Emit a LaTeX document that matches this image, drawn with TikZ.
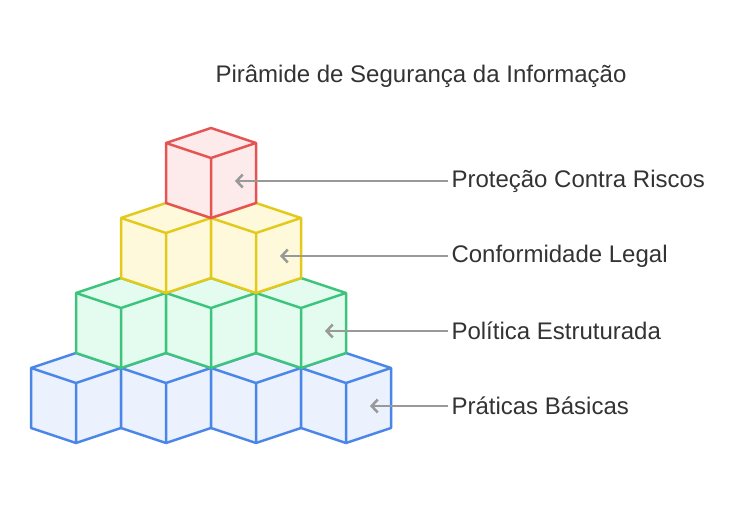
\documentclass[tikz,border=0pt]{standalone}
\usepackage{fontspec}
\setmainfont{Liberation Sans}
\usetikzlibrary{arrows.meta}
\definecolor{blueline}{HTML}{4A86E8}\definecolor{bluefill}{HTML}{EBF2FE}
\definecolor{greenline}{HTML}{3CC47C}\definecolor{greenfill}{HTML}{E3FCEF}
\definecolor{yellowline}{HTML}{E2C91A}\definecolor{yellowfill}{HTML}{FEF9DB}
\definecolor{redline}{HTML}{E55353}\definecolor{redfill}{HTML}{FDEBEB}
\definecolor{arrowgray}{HTML}{999999}
\newcommand{\blockcube}[3]{%
	\filldraw[line width=2.5pt, line join=round, draw=#3line, fill=#3fill]
		(#1,#2) -- ++(45,-15) -- ++(45,15) -- ++(0,60) -- ++(-45,15) -- ++(-45,-15) -- cycle;
	\draw[line width=2.5pt, line join=round, #3line]
		(#1,#2) -- ++(45,15) -- ++(45,-15)
		(#1+45,#2+15) -- ++(0,60);
}
\tikzset{
	label/.style={anchor=west, font=\fontsize{24}{28}\selectfont, text=black!80},
	pointer/.style={->, line width=2.5pt, arrowgray}
}
\begin{document}
\begin{tikzpicture}[x=1pt, y=-1pt, >={Straight Barb[length=6pt,width=13pt]}]
	\useasboundingbox (0,0) rectangle (753,505);
	\node[font=\fontsize{24}{28}\selectfont, text=black!80] (title) at (421,76) {Pirâmide de Segurança da Informação};
	\foreach \i in {0,...,3} {\blockcube{31+90*\i}{368}{blue}}
	\foreach \i in {0,...,2} {\blockcube{76+90*\i}{293}{green}}
	\foreach \i in {0,...,1} {\blockcube{121+90*\i}{218}{yellow}}
	\blockcube{166}{143}{red}
	\path
		(235,181) coordinate (redtip)
		(280,256) coordinate (yellowtip)
		(325,331) coordinate (greentip)
		(370,406) coordinate (bluetip)
	;
	\node[label] (risk) at (448,181) {Proteção Contra Riscos};
	\node[label] (legal) at (448,256) {Conformidade Legal};
	\node[label] (policy) at (448,331) {Política Estruturada};
	\node[label] (basic) at (448,406) {Práticas Básicas};
	\draw[pointer] (risk.west) -- (redtip);
	\draw[pointer] (legal.west) -- (yellowtip);
	\draw[pointer] (policy.west) -- (greentip);
	\draw[pointer] (basic.west) -- (bluetip);
\end{tikzpicture}
\end{document}
